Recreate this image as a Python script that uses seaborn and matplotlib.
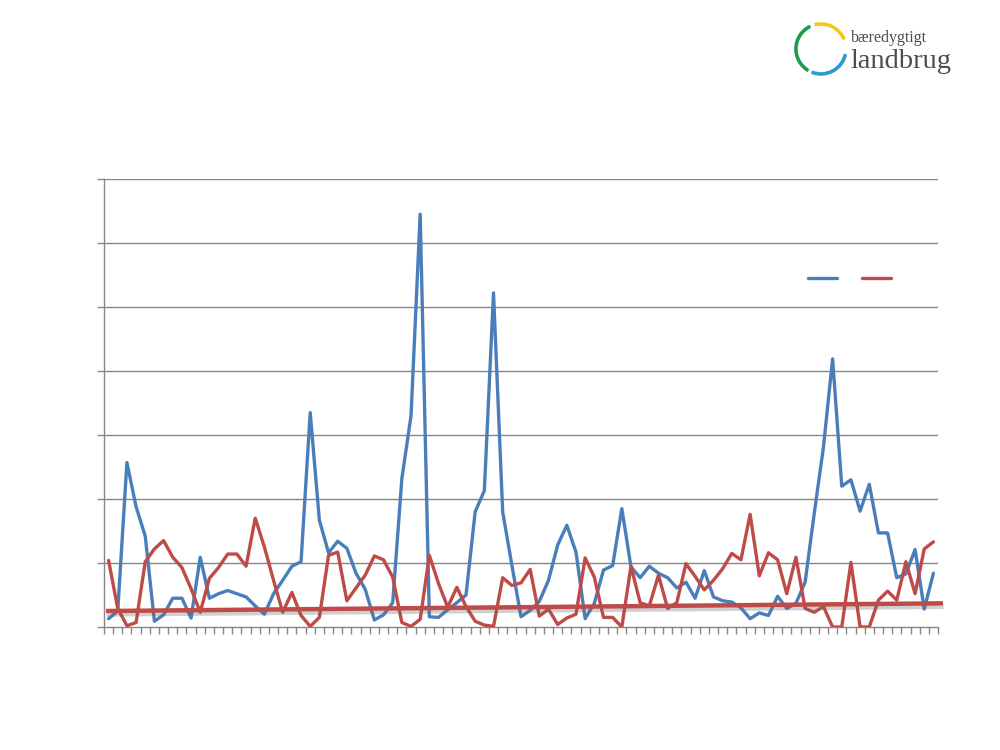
#!/usr/bin/env python3
"""
Line chart with two series, a trend line and the logo block top right.

Output:
- out.png
"""

from __future__ import annotations

import numpy as np
import pandas as pd
import matplotlib.pyplot as plt
import matplotlib.patheffects as pe
from matplotlib.lines import Line2D
from matplotlib.patches import Arc
import seaborn as sns

# Blue series (one value per period, 91 periods)
blue_values = [
    1.3, 2.5, 25.7, 18.8, 14.2, 0.9, 1.9, 4.5, 4.5, 1.4,
    10.9, 4.5, 5.2, 5.7, 5.2, 4.7, 3.3, 2.0, 5.2, 7.3,
    9.5, 10.2, 33.5, 16.7, 11.6, 13.4, 12.3, 8.4, 5.9, 1.1,
    1.9, 3.8, 23.2, 33.0, 64.5, 1.6, 1.5, 2.7, 3.8, 5.0,
    18.0, 21.3, 52.2, 18.0, 9.7, 1.6, 2.6, 4.0, 7.3, 12.8,
    15.9, 11.7, 1.3, 3.7, 8.9, 9.6, 18.5, 9.4, 7.7, 9.5,
    8.4, 7.7, 6.1, 7.0, 4.5, 8.8, 4.7, 4.1, 3.9, 3.0,
    1.3, 2.2, 1.8, 4.8, 2.9, 3.7, 7.0, 17.8, 28.1, 41.9,
    22.0, 23.0, 18.1, 22.3, 14.7, 14.7, 7.7, 8.3, 12.1, 2.8,
    8.4,
]

# Red series
red_values = [
    10.4, 2.9, 0.2, 0.7, 10.2, 12.2, 13.5, 10.9, 9.3, 6.0,
    2.3, 7.6, 9.3, 11.4, 11.4, 9.5, 17.0, 12.5, 7.3, 2.3,
    5.4, 1.8, 0.1, 1.5, 11.2, 11.7, 4.1, 6.1, 8.1, 11.1,
    10.5, 7.8, 0.7, 0.1, 1.2, 11.2, 6.8, 3.1, 6.2, 3.2,
    0.9, 0.3, 0.1, 7.7, 6.5, 6.9, 9.0, 1.7, 2.8, 0.4,
    1.4, 2.0, 10.8, 7.8, 1.5, 1.5, 0.0, 9.5, 3.8, 3.3,
    8.1, 2.9, 3.8, 9.9, 7.9, 5.8, 7.3, 9.1, 11.5, 10.5,
    17.6, 8.0, 11.6, 10.5, 5.2, 10.9, 2.9, 2.3, 3.2, 0.0,
    0.0, 10.1, 0.0, 0.0, 4.2, 5.6, 4.2, 10.2, 5.2, 12.2,
    13.3,
]

# Linear trend line (start / end)
trend_x = [-0.28, 91.04]
trend_y = [2.5, 3.7]

y_max = 70
y_step = 10

BLUE = '#4A7EBB'
RED = '#BE4B48'
GRID = '#868686'


def draw_logo(fig) -> None:
    """Ring of three arcs plus the two-line wordmark."""
    # ring centre ~ (821, 49) px, diameter ~50 px
    logo_ax = fig.add_axes([0.7922, 0.8964, 0.0575, 0.0767])
    logo_ax.set_xlim(-1.15, 1.15)
    logo_ax.set_ylim(-1.15, 1.15)
    logo_ax.set_aspect('equal')
    logo_ax.axis('off')
    arcs = [(115, 240, '#1E9B4B'), (22, 105, '#F2C918'), (-112, -12, '#2A9BD2')]
    for start, end, color in arcs:
        logo_ax.add_patch(Arc((0, 0), 2, 2, theta1=start, theta2=end,
                              color=color, lw=2.6))
    fig.text(0.851, 0.950, 'bæredygtigt', family='Liberation Serif',
             fontsize=11.5, color='#4D4D4D', va='center')
    fig.text(0.850, 0.918, 'landbrug', family='Liberation Serif',
             fontsize=20.5, color='#4D4D4D', va='center')


def plot_chart(output_path: str = 'out.png') -> None:
    sns.set_theme(style='white')

    df = pd.DataFrame({
        'period': np.arange(len(blue_values)),
        'blue': blue_values,
        'red': red_values,
    })

    fig = plt.figure(figsize=(10, 7.5), dpi=100)
    ax = fig.add_axes([0.104, 0.164, 0.834, 0.5973])

    # Gridlines
    for y in range(y_step, y_max + 1, y_step):
        ax.axhline(y, color=GRID, lw=1.0, zorder=0)

    sns.lineplot(data=df, x='period', y='blue', ax=ax, color=BLUE, lw=2.4, zorder=3)
    sns.lineplot(data=df, x='period', y='red', ax=ax, color=RED, lw=2.4, zorder=4)

    # Trend line with a soft shadow underneath
    ax.plot(trend_x, trend_y, color=RED, lw=3.2, zorder=5, clip_on=False,
            solid_capstyle='butt',
            path_effects=[pe.SimpleLineShadow(offset=(0.5, -2.0), shadow_color='0.4',
                                              alpha=0.3, linewidth=4.2),
                          pe.Normal()])

    ax.set_xlim(-0.5, len(blue_values) - 0.5)
    ax.set_ylim(0, y_max)
    ax.set_xticks(np.arange(-0.5, len(blue_values), 1.0))
    ax.set_yticks(np.arange(0, y_max + 1, y_step))
    ax.set_xticklabels([])
    ax.set_yticklabels([])
    ax.set_xlabel('')
    ax.set_ylabel('')
    ax.tick_params(axis='both', direction='out', length=5, width=1.0, color=GRID,
                   bottom=True, left=True)

    for side in ['top', 'right']:
        ax.spines[side].set_visible(False)
    for side in ['left', 'bottom']:
        ax.spines[side].set_color(GRID)
        ax.spines[side].set_linewidth(1.0)

    handles = [Line2D([], [], color=BLUE, lw=2.4), Line2D([], [], color=RED, lw=2.4)]
    ax.legend(handles, ['', ''], ncol=2, frameon=False, handlelength=2.1,
              handletextpad=0.0, columnspacing=1.8, fontsize=10,
              loc='center', bbox_to_anchor=(0.8495, 1 - 279 / 750),
              bbox_transform=fig.transFigure)

    draw_logo(fig)

    fig.savefig(output_path, dpi=100)
    plt.close(fig)


if __name__ == '__main__':
    plot_chart()
